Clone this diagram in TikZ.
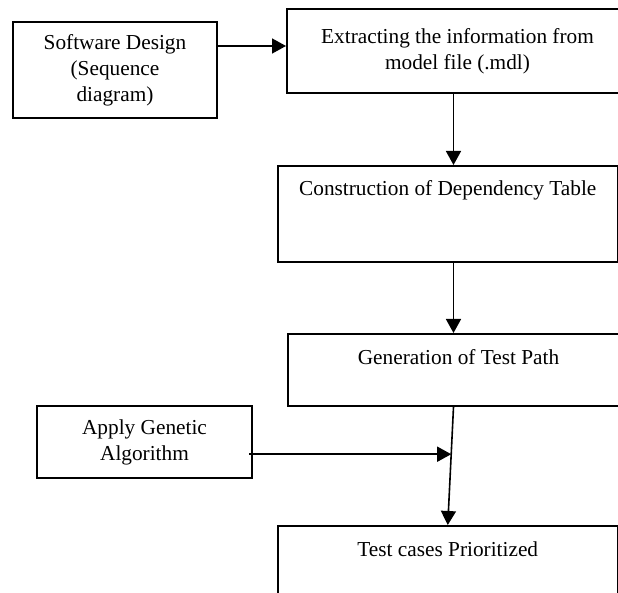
\documentclass[tikz,border=0pt]{standalone}
\usepackage{fontspec}
\setmainfont{Liberation Serif}
\usetikzlibrary{arrows.meta,calc}

\begin{document}
\begin{tikzpicture}[
  x=1pt, y=1pt,
  line width=1.6pt,
  procbox/.style={draw, rectangle, line width=2pt, align=center, anchor=north west, inner xsep=0pt},
  topbox/.style={procbox, text height=30pt, inner ysep=0pt},
  every node/.style={font=\fontsize{21.3}{26}\selectfont},
  >={Triangle[length=14pt,width=15pt]}
]
\useasboundingbox (0,0) rectangle (618,-593);
\clip (0,0) rectangle (618,-593);

\node[procbox, minimum width=204pt, minimum height=96pt] (design) at (12,-21) {Software Design\\(Sequence\\diagram)};
\node[procbox, minimum width=341pt, minimum height=84pt] (extract) at (286,-8) {Extracting the information from\\model file (.mdl)};
\node[topbox, minimum width=339.5pt, text depth=66pt] (table) at (277,-165) {Construction of Dependency Table};
\node[topbox, minimum width=341pt, text depth=42pt] (testpath) at (287,-333) {Generation of Test Path};
\node[procbox, minimum width=215pt, minimum height=72pt] (genetic) at (36,-405) {Apply Genetic\\Algorithm};
\node[topbox, minimum width=339.5pt, text depth=60pt] (prioritized) at (277,-525) {Test cases Prioritized};

\coordinate (pathout) at ([xshift=-5pt]testpath.south);
\coordinate (join) at ($(pathout)!0.4!(prioritized.north)$);

\draw[->] ([yshift=24pt]design.east) -- ([yshift=24pt]design.east -| extract.west);
\draw[->] ([xshift=-4pt]extract.south) -- ([xshift=-4pt]extract.south |- table.north);
\draw[->] ([xshift=5.75pt]table.south) -- ([xshift=5.75pt]table.south |- testpath.north);
\draw[->] (pathout) -- (prioritized.north);
\draw[->] ([xshift=-4pt]genetic.east |- join) -- (join);

\end{tikzpicture}
\end{document}
